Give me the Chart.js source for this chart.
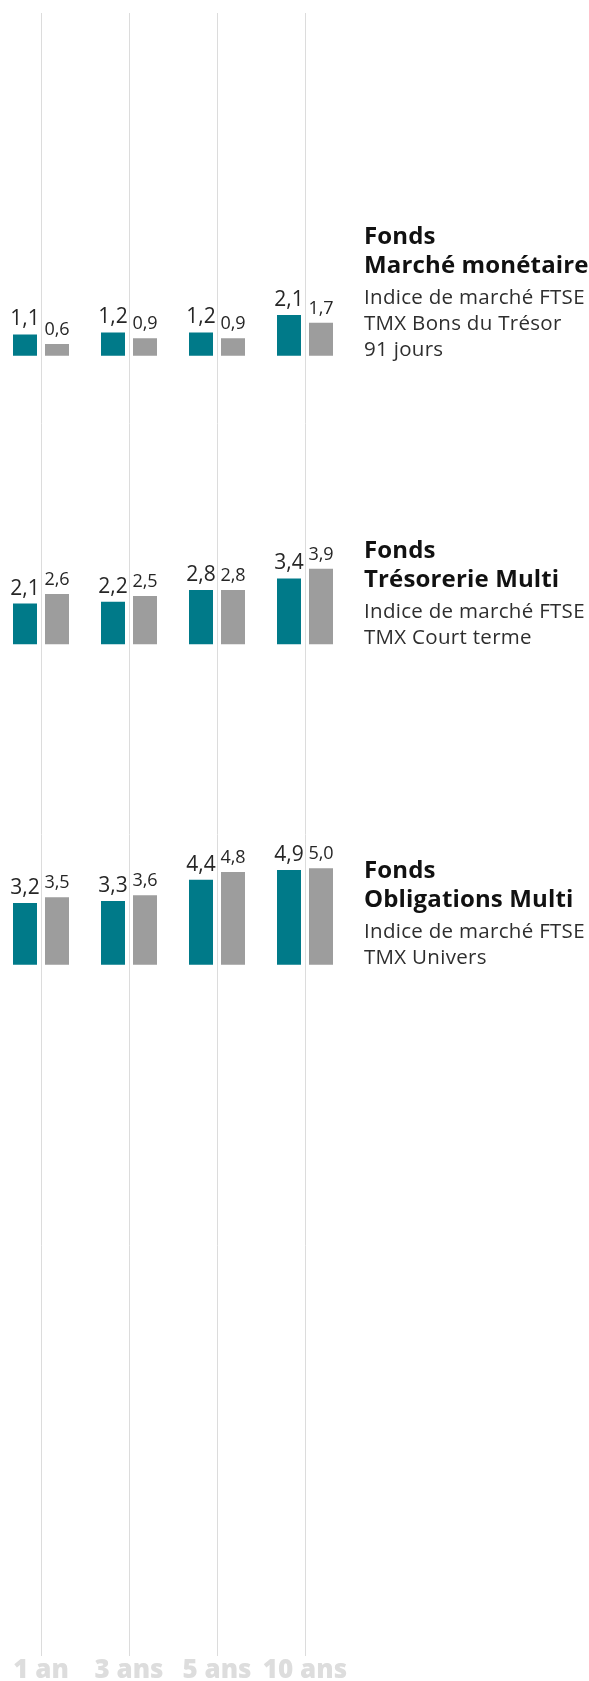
<!DOCTYPE html>
<html><head><meta charset="utf-8">
<script src="https://cdn.jsdelivr.net/npm/chart.js@4.4.1/dist/chart.umd.min.js"></script>
<style>
html,body{margin:0;padding:0;background:#fff;}
body{width:589px;height:1681px;position:relative;overflow:hidden;font-family:'Open Sans',sans-serif;}
#wrap{position:absolute;left:-3px;top:0;width:372px;height:1681px;}
.blk{position:absolute;left:364px;white-space:nowrap;}
.t{font-weight:700;font-size:24px;line-height:29px;color:#111;letter-spacing:0.15px;}
.s{font-size:20.5px;line-height:26px;color:#2e2e2e;margin-top:4.6px;letter-spacing:0.3px;}
</style></head>
<body>
<div id="wrap"><canvas id="c"></canvas></div>
<script>
// ---- data ----
const categories = ['1 an', '3 ans', '5 ans', '10 ans'];
const fundMonetaire   = [1.1, 1.2, 1.2, 2.1];
const indexMonetaire  = [0.6, 0.9, 0.9, 1.7];
const fundTresorerie  = [2.1, 2.2, 2.8, 3.4];
const indexTresorerie = [2.6, 2.5, 2.8, 3.9];
const fundObligations = [3.2, 3.3, 4.4, 4.9];
const indexObligations= [3.5, 3.6, 4.8, 5.0];
const panelTitles  = [['Fonds', 'Marché monétaire'], ['Fonds', 'Trésorerie Multi'], ['Fonds', 'Obligations Multi']];
const panelIndexes = [['Indice de marché FTSE', 'TMX Bons du Trésor', '91 jours'], ['Indice de marché FTSE', 'TMX Court terme'], ['Indice de marché FTSE', 'TMX Univers']];

// ---- layout / style ----
const TEAL = '#007a89', GRAY = '#9d9d9d';
const PX_PER_UNIT = 19.3;
const BASELINES = [355, 643, 963];
const AREA_TOP = 13, AREA_BOTTOM = 1653;
const PAGE_H = 1681;

const panels = [
  [fundMonetaire, indexMonetaire],
  [fundTresorerie, indexTresorerie],
  [fundObligations, indexObligations]
];

const datasets = [];
const scales = {
  x: {
    type: 'category', offset: true,
    grid: { offset: false, color: '#dcdcdc', lineWidth: 1, drawTicks: false },
    border: { display: false },
    ticks: { color: '#dddddd', padding: 4, maxRotation: 0, autoSkip: false,
      font: { family: "'Open Sans'", weight: 800, size: 26, lineHeight: 0.8 } }
  }
};
panels.forEach((pair, p) => {
  const id = 'y' + p;
  const b = BASELINES[p];
  scales[id] = {
    type: 'linear', display: false, stacked: false,
    min: -(AREA_BOTTOM - b) / PX_PER_UNIT,
    max: (b - AREA_TOP) / PX_PER_UNIT
  };
  datasets.push({ data: pair[0], backgroundColor: TEAL, yAxisID: id, stack: 'fund',
    categoryPercentage: 64 / 88, barPercentage: 0.75 });
  datasets.push({ data: pair[1], backgroundColor: GRAY, yAxisID: id, stack: 'index',
    categoryPercentage: 64 / 88, barPercentage: 0.75 });
});

const fmt = v => v.toFixed(1).replace('.', ',');
const valueLabels = {
  id: 'valueLabels',
  afterDatasetsDraw(chart) {
    const ctx = chart.ctx;
    chart.data.datasets.forEach((ds, i) => {
      const meta = chart.getDatasetMeta(i);
      const isFund = ds.stack === 'fund';
      ctx.save();
      ctx.font = (isFund ? '21px' : '18px') + " 'Open Sans'";
      ctx.fillStyle = '#262626';
      ctx.textAlign = 'center';
      ctx.textBaseline = 'alphabetic';
      meta.data.forEach((el, j) => ctx.fillText(fmt(ds.data[j]), el.x, el.y - 9));
      ctx.restore();
    });
  }
};

new Chart(document.getElementById('c'), {
  type: 'bar',
  data: { labels: categories, datasets },
  options: {
    responsive: true, maintainAspectRatio: false, animation: false,
    layout: { padding: { top: AREA_TOP, left: 0, right: 20, bottom: -4 } },
    plugins: { legend: { display: false }, tooltip: { enabled: false } },
    scales
  },
  plugins: [valueLabels]
});

// ---- side texts ----
panelTitles.forEach((title, p) => {
  const blk = document.createElement('div');
  blk.className = 'blk';
  blk.style.bottom = (PAGE_H - BASELINES[p] - 6) + 'px';
  const t = document.createElement('div');
  t.className = 't';
  t.innerHTML = title.join('<br>');
  const s = document.createElement('div');
  s.className = 's';
  s.innerHTML = panelIndexes[p].join('<br>');
  blk.appendChild(t); blk.appendChild(s);
  document.body.appendChild(blk);
});
</script>
</body></html>
